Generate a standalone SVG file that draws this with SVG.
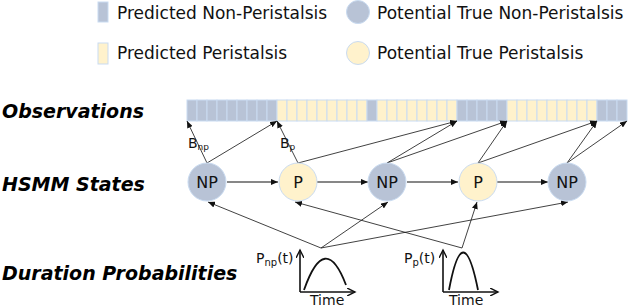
<svg xmlns="http://www.w3.org/2000/svg" width="630" height="308" viewBox="0 0 630 308">
<style>
.np{fill:#b8c3d6;stroke:#c9dbf1;stroke-width:1}
.p{fill:#fff2cc;stroke:#c9dbf1;stroke-width:1}
.leg{font-family:"DejaVu Sans",sans-serif;font-size:17px;fill:#111}
.row{font-family:"DejaVu Sans",sans-serif;font-size:19px;font-weight:bold;font-style:italic;fill:#000}
.nt{font-family:"DejaVu Sans",sans-serif;font-size:16px;fill:#111;text-anchor:middle}
.lb{font-family:"DejaVu Sans",sans-serif;font-size:14px;fill:#111}
.thin{stroke:#111;stroke-width:0.8;fill:none;marker-end:url(#ah)}
.link{stroke:#111;stroke-width:1.2;fill:none;marker-end:url(#ah2)}
.ax{stroke:#111;stroke-width:1.6;fill:none;marker-end:url(#ax)}
.cv{stroke:#111;stroke-width:1.8;fill:none}
</style>
<defs>
<marker id="ah" markerUnits="userSpaceOnUse" markerWidth="8" markerHeight="6" refX="7" refY="3" orient="auto"><path d="M0,0 L7,3 L0,6 Z" fill="#111"/></marker>
<marker id="ah2" markerUnits="userSpaceOnUse" markerWidth="8" markerHeight="6" refX="7" refY="3" orient="auto"><path d="M0,0 L7,3 L0,6 Z" fill="#111"/></marker>
<marker id="ax" markerUnits="userSpaceOnUse" markerWidth="10" markerHeight="8" refX="8" refY="4" orient="auto"><path d="M0,0 L8,4 L0,8" fill="none" stroke="#111" stroke-width="1.4"/></marker>
</defs>

<g id="legend">
<rect class="np" x="98" y="2" width="10" height="20"/>
<text class="leg" x="117" y="19">Predicted Non-Peristalsis</text>
<circle class="np" cx="358" cy="12" r="11.5" stroke="none"/>
<text class="leg" x="377" y="19">Potential True Non-Peristalsis</text>
<rect class="p" x="98" y="43" width="10" height="21"/>
<text class="leg" x="117" y="59">Predicted Peristalsis</text>
<circle class="p" cx="358" cy="53" r="11.5" stroke="none"/>
<text class="leg" x="377" y="59">Potential True Peristalsis</text>
</g>

<g id="row-labels">
<text class="row" x="2" y="118">Observations</text>
<text class="row" x="2" y="191">HSMM States</text>
<text class="row" x="2" y="280">Duration Probabilities</text>
</g>

<g id="observations">
<rect class="np" x="187" y="100" width="10" height="21"/><rect class="np" x="197" y="100" width="10" height="21"/><rect class="np" x="207" y="100" width="10" height="21"/><rect class="np" x="217" y="100" width="10" height="21"/><rect class="np" x="227" y="100" width="10" height="21"/><rect class="np" x="237" y="100" width="10" height="21"/><rect class="np" x="247" y="100" width="10" height="21"/><rect class="np" x="257" y="100" width="10" height="21"/><rect class="np" x="267" y="100" width="10" height="21"/>
<rect class="p" x="277" y="100" width="10" height="21"/><rect class="p" x="287" y="100" width="10" height="21"/><rect class="p" x="297" y="100" width="10" height="21"/><rect class="p" x="307" y="100" width="10" height="21"/><rect class="p" x="317" y="100" width="10" height="21"/><rect class="p" x="327" y="100" width="10" height="21"/><rect class="p" x="337" y="100" width="10" height="21"/><rect class="p" x="347" y="100" width="10" height="21"/><rect class="p" x="357" y="100" width="10" height="21"/>
<rect class="np" x="367" y="100" width="10" height="21"/>
<rect class="p" x="377" y="100" width="10" height="21"/><rect class="p" x="387" y="100" width="10" height="21"/><rect class="p" x="397" y="100" width="10" height="21"/><rect class="p" x="407" y="100" width="10" height="21"/><rect class="p" x="417" y="100" width="10" height="21"/><rect class="p" x="427" y="100" width="10" height="21"/><rect class="p" x="437" y="100" width="10" height="21"/><rect class="p" x="447" y="100" width="10" height="21"/>
<rect class="np" x="457" y="100" width="10" height="21"/><rect class="np" x="467" y="100" width="10" height="21"/><rect class="np" x="477" y="100" width="10" height="21"/><rect class="np" x="487" y="100" width="10" height="21"/><rect class="np" x="497" y="100" width="10" height="21"/>
<rect class="p" x="507" y="100" width="10" height="21"/><rect class="p" x="517" y="100" width="10" height="21"/><rect class="p" x="527" y="100" width="10" height="21"/><rect class="p" x="537" y="100" width="10" height="21"/><rect class="p" x="547" y="100" width="10" height="21"/><rect class="p" x="557" y="100" width="10" height="21"/><rect class="p" x="567" y="100" width="10" height="21"/><rect class="p" x="577" y="100" width="10" height="21"/><rect class="p" x="587" y="100" width="10" height="21"/>
<rect class="np" x="597" y="100" width="10" height="21"/><rect class="np" x="607" y="100" width="10" height="21"/><rect class="np" x="617" y="100" width="10" height="21"/>
</g>

<g id="connectors">
<line class="thin" x1="207" y1="163" x2="187" y2="121"/>
<line class="thin" x1="207" y1="163" x2="277" y2="121"/>
<line class="thin" x1="298" y1="163" x2="277" y2="121"/>
<line class="thin" x1="298" y1="163" x2="457" y2="121"/>
<line class="thin" x1="387" y1="163" x2="457" y2="121"/>
<line class="thin" x1="387" y1="163" x2="507" y2="121"/>
<line class="thin" x1="478" y1="163" x2="507" y2="121"/>
<line class="thin" x1="478" y1="163" x2="597" y2="121"/>
<line class="thin" x1="567" y1="163" x2="597" y2="121"/>
<line class="thin" x1="567" y1="163" x2="627" y2="121"/>
<line class="link" x1="227" y1="182" x2="278" y2="182"/>
<line class="link" x1="317" y1="182" x2="368" y2="182"/>
<line class="link" x1="407" y1="182" x2="458" y2="182"/>
<line class="link" x1="497" y1="182" x2="548" y2="182"/>
<line class="thin" x1="321" y1="248" x2="208" y2="202"/>
<line class="thin" x1="321" y1="248" x2="388" y2="202"/>
<line class="thin" x1="321" y1="248" x2="568" y2="202"/>
<line class="thin" x1="462" y1="248" x2="295" y2="202"/>
<line class="thin" x1="462" y1="248" x2="477" y2="202"/>
</g>

<g id="emission-labels">
<text class="lb" x="188" y="148">B<tspan font-size="9" dy="2">np</tspan></text>
<text class="lb" x="280" y="148">B<tspan font-size="9" dy="2">p</tspan></text>
</g>

<g id="node-np1"><circle class="np" cx="207" cy="182" r="19"/><text class="nt" x="207" y="188">NP</text></g>
<g id="node-p1"><circle class="p" cx="298" cy="182" r="19"/><text class="nt" x="298" y="188">P</text></g>
<g id="node-np2"><circle class="np" cx="387" cy="182" r="19"/><text class="nt" x="387" y="188">NP</text></g>
<g id="node-p2"><circle class="p" cx="478" cy="182" r="19"/><text class="nt" x="478" y="188">P</text></g>
<g id="node-np3"><circle class="np" cx="567" cy="182" r="19"/><text class="nt" x="567" y="188">NP</text></g>

<g id="duration-np">
<text class="lb" x="256" y="263">P<tspan font-size="10" dy="3">np</tspan><tspan dy="-3">(t)</tspan></text>
<line class="ax" x1="300" y1="292" x2="300" y2="250"/>
<line class="ax" x1="300" y1="292" x2="355" y2="292"/>
<path class="cv" d="M304,290 Q325,230 346,285"/>
<text class="lb" x="310" y="305">Time</text>
</g>

<g id="duration-p">
<text class="lb" x="404" y="263">P<tspan font-size="10" dy="3">p</tspan><tspan dy="-3">(t)</tspan></text>
<line class="ax" x1="443" y1="292" x2="443" y2="250"/>
<line class="ax" x1="443" y1="292" x2="498" y2="292"/>
<path class="cv" d="M449,290 Q463,215 478,290"/>
<text class="lb" x="449" y="305">Time</text>
</g>
</svg>
